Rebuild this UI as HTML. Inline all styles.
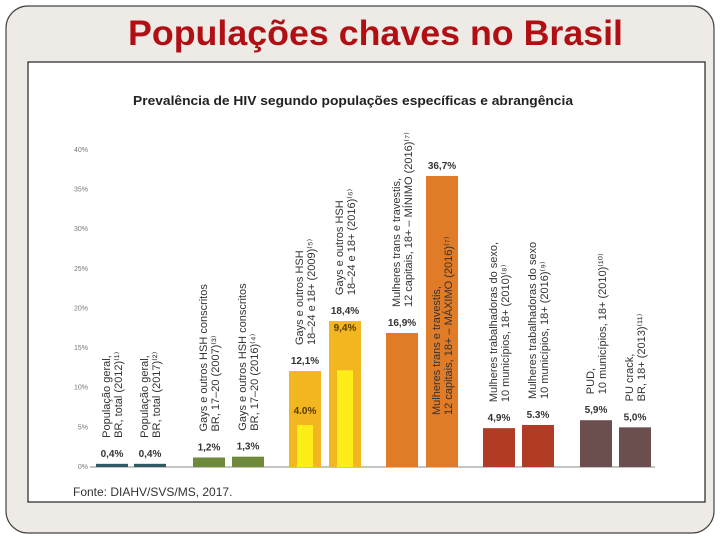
<!DOCTYPE html>
<html><head><meta charset="utf-8"><style>
html,body{margin:0;padding:0;width:720px;height:540px;overflow:hidden;background:#fff;}
svg{display:block;font-family:"Liberation Sans",sans-serif;}
</style></head><body>
<svg id="c" width="720" height="540" viewBox="0 0 720 540">
<rect x="6" y="6" width="708" height="527" rx="22" fill="#eeebe6" stroke="#444" stroke-width="1.2"/>
<text x="128" y="45" font-size="35" font-weight="bold" fill="#b00f14" textLength="495" lengthAdjust="spacingAndGlyphs">Populações chaves no Brasil</text>
<rect x="28" y="62" width="677" height="440" fill="#fff" stroke="#222" stroke-width="1.2"/>
<text x="353" y="105" text-anchor="middle" font-size="12.5" font-weight="bold" fill="#222" textLength="440" lengthAdjust="spacingAndGlyphs">Prevalência de HIV segundo populações específicas e abrangência</text>
<text x="73" y="496" font-size="12" fill="#333">Fonte: DIAHV/SVS/MS, 2017.</text>
<g id="axis"></g><g id="bars"></g>
</svg>
<script>
const ticks = [0,5,10,15,20,25,30,35,40];
const tickLabels = ["0%","5%","10%","15%","20%","25%","30%","35%","40%"];
const values = [0.4,0.4,1.2,1.3,12.1,18.4,16.9,36.7,4.9,5.3,5.9,5.0];
const valueLabels = ["0,4%","0,4%","1,2%","1,3%","12,1%","18,4%","16,9%","36,7%","4,9%","5.3%","5,9%","5,0%"];
const innerValues = [null,null,null,null,5.3,12.2,null,null,null,null,null,null];
const innerLabels = [null,null,null,null,"4.0%","9,4%",null,null,null,null,null,null];
const line1 = ["População geral,","População geral,","Gays e outros HSH conscritos","Gays e outros HSH conscritos","Gays e outros HSH","Gays e outros HSH","Mulheres trans e travestis,","Mulheres trans e travestis,","Mulheres trabalhadoras do sexo,","Mulheres trabalhadoras do sexo","PUD,","PU crack,"];
const line2 = ["BR, total (2012)⁽¹⁾","BR, total (2017)⁽²⁾","BR, 17–20 (2007)⁽³⁾","BR, 17–20 (2016)⁽⁴⁾","18–24 e 18+ (2009)⁽⁵⁾","18–24 e 18+ (2016)⁽⁶⁾","12 capitais, 18+ – MÍNIMO (2016)⁽⁷⁾","12 capitais, 18+ – MÁXIMO (2016)⁽⁷⁾","10 municípios, 18+ (2010)⁽⁸⁾","10 municípios, 18+ (2016)⁽⁹⁾","10 municípios, 18+ (2010)⁽¹⁰⁾","BR, 18+ (2013)⁽¹¹⁾"];
const colors = ["#2d5a66","#2d5a66","#6f8a3b","#6f8a3b","#f2b621","#f2b621","#e07b27","#e07b27","#b03c26","#b03c26","#6b4f4f","#6b4f4f"];
const barX = [96,134,193,232,289,329,386,426,483,522,580,619];
const NS="http://www.w3.org/2000/svg";
const y = v => 467 - v*7.93;
function mk(tag, attrs, parent, txt){const e=document.createElementNS(NS,tag);for(const k in attrs)e.setAttribute(k,attrs[k]);if(txt!=null)e.textContent=txt;parent.appendChild(e);return e;}
const ax=document.getElementById('axis'), bg=document.getElementById('bars');
ticks.forEach((t,i)=>{
  const e=mk('text',{x:88,y:y(t)+2,'text-anchor':'end','font-size':7,fill:'#777'},ax,tickLabels[i]);
  
  
});
const base=mk('line',{x1:90,x2:655,y1:467,y2:467,stroke:'#888','stroke-width':1},ax);


values.forEach((v,i)=>{
  const x=barX[i], w=32, top=y(v);
  const r=mk('rect',{x:x,y:top,width:w,height:467-top,fill:colors[i]},bg);
  
  
  if(innerValues[i]!=null){
    const it=y(innerValues[i]);
    const ir=mk('rect',{x:x+8,y:it,width:16,height:467-it,fill:'#fdee1a'},bg);
    
    
    const il=mk('text',{x:x+16,y:i===4?it-11:top+10,'text-anchor':'middle','font-size':10,'font-weight':'bold',fill:'#5a3a00'},bg,innerLabels[i]);
    
    
  }
  const vl=mk('text',{x:x+16,y:top-7,'text-anchor':'middle','font-size':10,'font-weight':'bold',fill:'#333'},bg,valueLabels[i]);
  
  
  const by = i===7 ? 415 : top-26;
  [line1[i],line2[i]].forEach((s,j)=>{
    const bx=x+14+j*12;
    const t=mk('text',{x:bx,y:by,'font-size':11,fill:'#333',transform:`rotate(-90 ${bx} ${by})`},bg,s);
    
    
  });
});
</script>
</body></html>
